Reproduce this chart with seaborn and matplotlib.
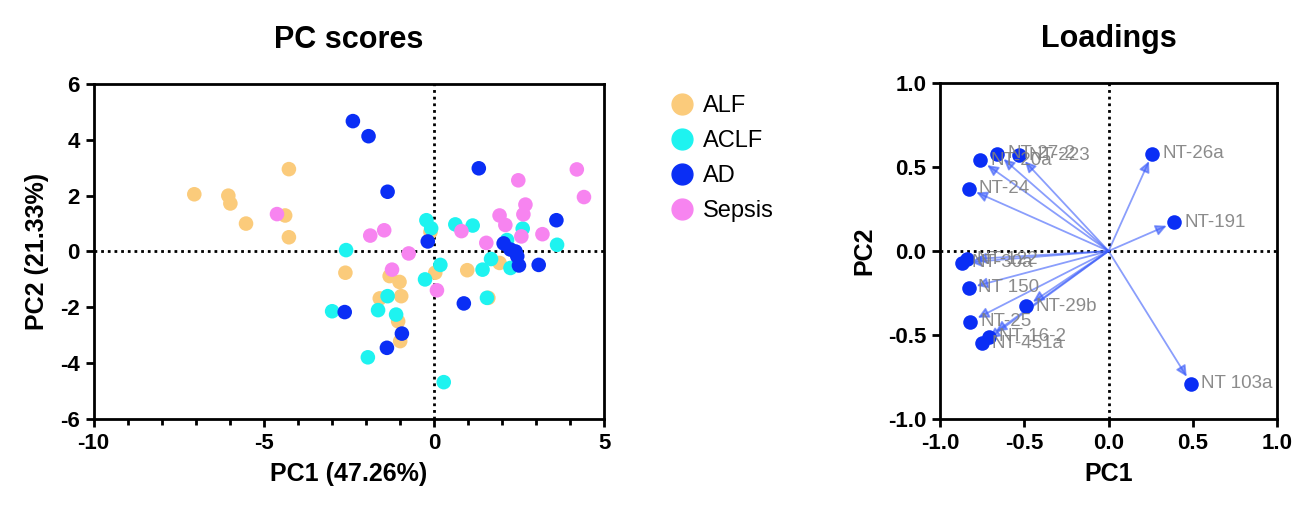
import numpy as np
import pandas as pd
import matplotlib
matplotlib.use("Agg")
import matplotlib.pyplot as plt
from matplotlib.ticker import MultipleLocator
from matplotlib.lines import Line2D
import seaborn as sns

# PC scores per group
alf_pc1 = [-7.04, -6.04, -5.98, -5.52, -4.26, -4.37, -4.26, -0.10, -2.60, -1.30,
           -1.01, -1.59, -0.96, -1.05, -0.99, 0.04, 0.98, 1.60, 1.93]
alf_pc2 = [2.05, 2.00, 1.72, 1.00, 2.95, 1.29, 0.51, 0.70, -0.76, -0.88,
           -1.09, -1.68, -1.60, -2.50, -3.21, -0.76, -0.67, -1.66, -0.41]

aclf_pc1 = [-2.58, -0.22, -0.08, 0.63, 1.14, 2.61, 3.62, -1.36, -1.64, -1.11,
            -1.94, -2.99, -0.26, 0.19, 0.29, 1.43, 1.56, 1.68, 2.25, 2.15]
aclf_pc2 = [0.05, 1.12, 0.83, 0.97, 0.93, 0.82, 0.24, -1.60, -2.10, -2.26,
            -3.79, -2.14, -1.00, -0.48, -4.68, -0.65, -1.66, -0.27, -0.59, 0.41]

ad_pc1 = [-2.38, -1.92, -1.36, 1.32, 3.60, -0.18, 2.05, 2.25, 2.40, 2.45,
          2.50, 3.08, 0.88, -0.94, -1.38, -2.62]
ad_pc2 = [4.67, 4.13, 2.14, 2.98, 1.12, 0.36, 0.29, 0.07, 0.00, -0.17,
          -0.50, -0.48, -1.86, -2.94, -3.45, -2.17]

sepsis_pc1 = [-4.61, 4.20, 4.41, 2.48, 2.69, 2.63, 1.93, 2.10, 3.19, 0.81,
              1.54, 2.57, -1.87, -1.46, -0.74, -1.23, 0.09]
sepsis_pc2 = [1.34, 2.94, 1.95, 2.55, 1.68, 1.33, 1.29, 0.95, 0.62, 0.73,
              0.31, 0.54, 0.57, 0.76, -0.07, -0.65, -1.39]

groups = ["ALF", "ACLF", "AD", "Sepsis"]
group_colors = ["#FBCB7B", "#1EF3F0", "#0A2EF5", "#F784F0"]

# Loadings
loading_names = ["NT-27-2", "NT-20a", "NT-223", "NT-24", "NT-30a", "NT-122", "NT 150",
                 "NT-29b", "NT-25", "NT-16-2", "NT-451a", "NT-26a", "NT-191", "NT 103a"]
loading_pc1 = [-0.66, -0.76, -0.53, -0.83, -0.87, -0.84, -0.83,
               -0.49, -0.82, -0.71, -0.75, 0.26, 0.39, 0.49]
loading_pc2 = [0.58, 0.54, 0.57, 0.37, -0.07, -0.05, -0.22,
               -0.33, -0.42, -0.51, -0.55, 0.58, 0.17, -0.79]

df = pd.concat([
    pd.DataFrame({"PC1": alf_pc1, "PC2": alf_pc2, "Group": "ALF"}),
    pd.DataFrame({"PC1": aclf_pc1, "PC2": aclf_pc2, "Group": "ACLF"}),
    pd.DataFrame({"PC1": ad_pc1, "PC2": ad_pc2, "Group": "AD"}),
    pd.DataFrame({"PC1": sepsis_pc1, "PC2": sepsis_pc2, "Group": "Sepsis"}),
], ignore_index=True)
load_df = pd.DataFrame({"name": loading_names, "PC1": loading_pc1, "PC2": loading_pc2})

sns.set_theme(style="ticks")
plt.rcParams["font.family"] = ["Liberation Sans", "DejaVu Sans"]
plt.rcParams["axes.unicode_minus"] = False
plt.rcParams["text.color"] = "black"
plt.rcParams["axes.labelcolor"] = "black"
plt.rcParams["xtick.color"] = "black"
plt.rcParams["ytick.color"] = "black"

fig = plt.figure(figsize=(13.14, 5.09), dpi=100)
ax1 = fig.add_axes([0.0712, 0.1768, 0.3885, 0.6582])
ax2 = fig.add_axes([0.7154, 0.1768, 0.2565, 0.6601])

dot = (0, (1, 1.4))

def style_axes(ax):
    for sp in ax.spines.values():
        sp.set_linewidth(2)
        sp.set_color("black")
    ax.tick_params(which="major", length=6, width=2, labelsize=16, pad=4, colors="black")
    ax.tick_params(which="minor", length=4, width=2, colors="black")
    for lab in ax.get_xticklabels() + ax.get_yticklabels():
        lab.set_fontweight("bold")

# --- PC scores ---
ax1.axhline(0, color="black", ls=dot, lw=2, zorder=1)
ax1.axvline(0, color="black", ls=dot, lw=2, zorder=1)
sns.scatterplot(data=df, x="PC1", y="PC2", hue="Group", hue_order=groups,
                palette=group_colors, s=110, linewidth=0, alpha=1,
                legend=False, ax=ax1, zorder=3)
ax1.set_xlim(-10, 5)
ax1.set_ylim(-6, 6)
ax1.xaxis.set_major_locator(MultipleLocator(5))
ax1.xaxis.set_minor_locator(MultipleLocator(1))
ax1.yaxis.set_major_locator(MultipleLocator(2))
ax1.set_xlabel("PC1 (47.26%)", fontsize=18, fontweight="bold", labelpad=6)
ax1.set_ylabel("PC2 (21.33%)", fontsize=18, fontweight="bold", labelpad=8)
ax1.set_title("PC scores", fontsize=22, fontweight="bold", pad=26, color="black")
style_axes(ax1)

handles = [Line2D([], [], marker="o", ls="", color=c, markersize=15) for c in group_colors]
fig.legend(handles, groups, loc="upper left", bbox_to_anchor=(0.492, 0.855),
           frameon=False, fontsize=17, handletextpad=0.3, labelspacing=0.55,
           handlelength=1.2)

# --- Loadings ---
ax2.axhline(0, color="black", ls=dot, lw=2, zorder=1)
ax2.axvline(0, color="black", ls=dot, lw=2, zorder=1)
for _, r in load_df.iterrows():
    ax2.annotate("", xy=(r.PC1, r.PC2), xytext=(0, 0),
                 arrowprops=dict(arrowstyle="-|>", color="#3c5dfa", alpha=0.6,
                                 lw=1.3, shrinkA=0, shrinkB=6, mutation_scale=16),
                 zorder=2)
sns.scatterplot(data=load_df, x="PC1", y="PC2", color="#0A2EF5", s=110,
                linewidth=0, ax=ax2, zorder=3)
for _, r in load_df.iterrows():
    ax2.annotate(r["name"], xy=(r.PC1, r.PC2), xytext=(7, 0), textcoords="offset points",
                 ha="left", va="center", fontsize=13.5, color="#7f7f7f", alpha=0.9, zorder=4)
ax2.set_xlim(-1, 1)
ax2.set_ylim(-1, 1)
ax2.xaxis.set_major_locator(MultipleLocator(0.5))
ax2.yaxis.set_major_locator(MultipleLocator(0.5))
ax2.xaxis.set_major_formatter("{x:.1f}")
ax2.yaxis.set_major_formatter("{x:.1f}")
ax2.set_xlabel("PC1", fontsize=18, fontweight="bold", labelpad=6)
ax2.set_ylabel("PC2", fontsize=18, fontweight="bold", labelpad=8)
ax2.set_title("Loadings", fontsize=22, fontweight="bold", pad=26, color="black")
style_axes(ax2)

fig.savefig("out.png", dpi=100)
